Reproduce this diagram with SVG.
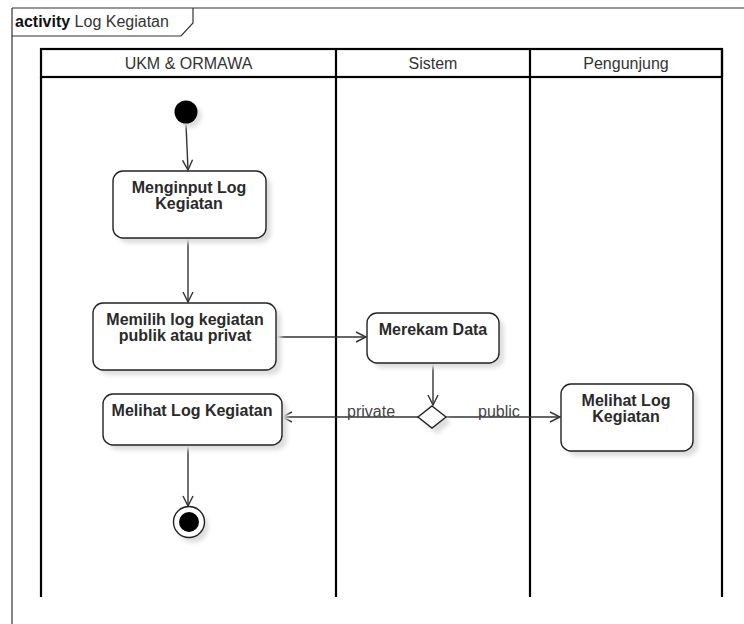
<svg xmlns="http://www.w3.org/2000/svg" width="744" height="624" viewBox="0 0 744 624">
<style>
  .frame{fill:none;stroke:#333;stroke-width:1.2}
  .lane{fill:none;stroke:#000;stroke-width:2.2}
  .hdr{font-family:"Liberation Sans",Arial,sans-serif;font-size:16px;fill:#333;text-anchor:middle}
  .node{fill:#fff;stroke:#222;stroke-width:1.4}
  .shadow{fill:#ddd;filter:url(#blur)}
  .ntext{font-family:"Liberation Sans",Arial,sans-serif;font-size:16px;font-weight:bold;fill:#2a2a2a;text-anchor:middle}
  .edge{fill:none;stroke:#333;stroke-width:1.4}
  .elabel{font-family:"Liberation Sans",Arial,sans-serif;font-size:16px;fill:#444}
</style>
<defs>
  <filter id="blur" x="-20%" y="-20%" width="140%" height="140%"><feGaussianBlur stdDeviation="2"/></filter>
  <marker id="arr" viewBox="0 0 12 12" refX="11" refY="6" markerWidth="12" markerHeight="12" markerUnits="userSpaceOnUse" orient="auto">
    <path d="M1,1 L11,6 L1,11" fill="none" stroke="#333" stroke-width="1.4"/>
  </marker>
</defs>
<rect width="744" height="624" fill="#fff"/>
<g id="frame">
  <line class="frame" x1="12" y1="8" x2="744" y2="8"/>
  <line class="frame" x1="12" y1="8" x2="12" y2="624"/>
  <path class="frame" d="M12,36 L181,36 L193,23 L193,8"/>
  <text x="15" y="27" font-family="'Liberation Sans',Arial,sans-serif" font-size="16" fill="#333"><tspan font-weight="bold" fill="#111">activity</tspan> Log Kegiatan</text>
</g>
<g id="lanes">
  <rect class="lane" x="41" y="49" width="681" height="28"/>
  <line class="lane" x1="41" y1="77" x2="41" y2="597"/>
  <line class="lane" x1="336" y1="49" x2="336" y2="597"/>
  <line class="lane" x1="530" y1="49" x2="530" y2="597"/>
  <line class="lane" x1="722" y1="49" x2="722" y2="597"/>
  <text class="hdr" x="188.5" y="69">UKM &amp; ORMAWA</text>
  <text class="hdr" x="433" y="69">Sistem</text>
  <text class="hdr" x="626" y="69">Pengunjung</text>
</g>
<g id="connectors">
  <line class="edge" x1="186" y1="124" x2="188" y2="170" marker-end="url(#arr)"/>
  <line class="edge" x1="188" y1="238" x2="188" y2="302" marker-end="url(#arr)"/>
  <line class="edge" x1="276" y1="337" x2="366" y2="337" marker-end="url(#arr)"/>
  <line class="edge" x1="433" y1="363" x2="433" y2="405" marker-end="url(#arr)"/>
  <line class="edge" x1="418" y1="417" x2="282" y2="417" marker-end="url(#arr)"/>
  <line class="edge" x1="446" y1="417" x2="560" y2="417" marker-end="url(#arr)"/>
  <line class="edge" x1="188" y1="445" x2="188" y2="506" marker-end="url(#arr)"/>
  <text class="elabel" x="347" y="417">private</text>
  <text class="elabel" x="478" y="417">public</text>
</g>
<g id="start">
  <circle class="shadow" cx="190" cy="116" r="11.5"/>
  <circle cx="186" cy="112" r="11.5" fill="#000"/>
</g>
<g id="menginput">
  <rect class="shadow" x="118" y="176" width="153" height="67" rx="10"/>
  <rect class="node" x="113" y="171" width="153" height="67" rx="10"/>
  <text class="ntext" x="189" y="193">Menginput Log</text>
  <text class="ntext" x="189" y="209">Kegiatan</text>
</g>
<g id="memilih">
  <rect class="shadow" x="98" y="308" width="183" height="67" rx="10"/>
  <rect class="node" x="93" y="303" width="183" height="67" rx="10"/>
  <text class="ntext" x="185" y="325">Memilih log kegiatan</text>
  <text class="ntext" x="185" y="341">publik atau privat</text>
</g>
<g id="merekam">
  <rect class="shadow" x="372" y="318" width="132" height="50" rx="10"/>
  <rect class="node" x="367" y="313" width="132" height="50" rx="10"/>
  <text class="ntext" x="433" y="335">Merekam Data</text>
</g>
<g id="decision">
  <path class="shadow" d="M437,410 L451,422 L437,434 L423,422 Z"/>
  <path class="node" d="M432,406 L446,417 L432,428 L418,417 Z"/>
</g>
<g id="melihat-pengunjung">
  <rect class="shadow" x="566" y="389" width="132" height="67" rx="10"/>
  <rect class="node" x="561" y="384" width="132" height="67" rx="10"/>
  <text class="ntext" x="626" y="406">Melihat Log</text>
  <text class="ntext" x="626" y="422">Kegiatan</text>
</g>
<g id="melihat-ukm">
  <rect class="shadow" x="108" y="399" width="179" height="51" rx="10"/>
  <rect class="node" x="103" y="394" width="179" height="51" rx="10"/>
  <text class="ntext" x="192" y="416">Melihat Log Kegiatan</text>
</g>
<g id="end">
  <circle class="shadow" cx="193" cy="527" r="15.5"/>
  <circle cx="189" cy="522" r="15.5" fill="#fff" stroke="#222" stroke-width="1.4"/>
  <circle cx="189" cy="522" r="10" fill="#000"/>
</g>
</svg>
